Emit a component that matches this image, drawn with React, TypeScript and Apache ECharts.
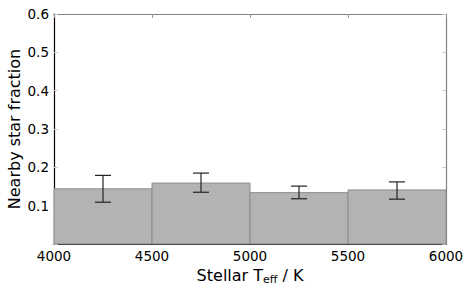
import React, { useEffect, useRef } from "react";
import * as echarts from "echarts";

const binStarts = [4000, 4500, 5000, 5500];
const binEnds = [4500, 5000, 5500, 6000];
const fractions = [0.144, 0.159, 0.134, 0.141];
const errCenters = [4250, 4750, 5250, 5750];
const errLow = [0.109, 0.135, 0.118, 0.117];
const errHigh = [0.179, 0.185, 0.151, 0.162];
const xTicks = [4000, 4500, 5000, 5500, 6000];
const yTicks = [0, 0.1, 0.2, 0.3, 0.4, 0.5, 0.6];

const FONT = "DejaVu Sans";

export default function App() {
  const ref = useRef<HTMLDivElement>(null);
  useEffect(() => {
    if (!ref.current) return;
    const chart = echarts.init(ref.current, undefined, { renderer: "svg" });
    const barData = binStarts.map((s, i) => [s, binEnds[i], fractions[i]]);
    const errData = errCenters.map((c, i) => [c, errLow[i], errHigh[i]]);
    const common = {
      min: xTicks[0],
      max: xTicks[xTicks.length - 1],
      interval: 500,
    };
    const yCommon = {
      min: yTicks[0],
      max: yTicks[yTicks.length - 1],
      interval: 0.1,
    };
    chart.setOption({
      animation: false,
      grid: { left: 54, right: 24, top: 14, bottom: 47, containLabel: false, outerBoundsMode: "none" },
      xAxis: [
        {
          type: "value",
          ...common,
          position: "bottom",
          axisLine: { onZero: false, lineStyle: { color: "#000", width: 1.2 } },
          axisTick: { inside: true, length: 4, lineStyle: { color: "#888" } },
          axisLabel: {
            color: "#000",
            fontFamily: FONT,
            fontSize: 13.5,
            margin: 5,
            formatter: (v: number) => String(v),
          },
          splitLine: { show: false },
          name: "Stellar T{sub|eff} / K",
          nameLocation: "middle",
          nameGap: 22,
          nameMoveOverlap: false,
          nameTextStyle: {
            color: "#000",
            fontFamily: FONT,
            fontSize: 16,
            rich: {
              sub: { fontFamily: FONT, fontSize: 11, verticalAlign: "bottom", padding: [8, 0, 0, 0], color: "#000" },
            },
          },
        },
        {
          type: "value",
          ...common,
          position: "top",
          axisLine: { show: true, onZero: false, lineStyle: { color: "#808080", width: 1.2 } },
          axisTick: { inside: true, length: 4, lineStyle: { color: "#999" } },
          axisLabel: { show: false },
          splitLine: { show: false },
        },
      ],
      yAxis: [
        {
          type: "value",
          ...yCommon,
          position: "left",
          axisLine: { show: true, onZero: false, lineStyle: { color: "#000", width: 1.2 } },
          axisTick: { show: true, inside: true, length: 4, lineStyle: { color: "#ccc" } },
          axisLabel: {
            color: "#000",
            fontFamily: FONT,
            fontSize: 13.5,
            margin: 5,
            formatter: (v: number) => (Math.abs(v) < 1e-9 ? "" : v.toFixed(1)),
          },
          splitLine: { show: false },
          name: "Nearby star fraction",
          nameLocation: "middle",
          nameGap: 32,
          nameMoveOverlap: false,
          nameTextStyle: { color: "#000", fontFamily: FONT, fontSize: 16 },
        },
        {
          type: "value",
          ...yCommon,
          position: "right",
          axisLine: { show: true, onZero: false, lineStyle: { color: "#808080", width: 1.2 } },
          axisTick: { show: true, inside: true, length: 4, lineStyle: { color: "#ccc" } },
          axisLabel: { show: false },
          splitLine: { show: false },
        },
      ],
      series: [
        {
          type: "custom",
          xAxisIndex: 0,
          yAxisIndex: 0,
          data: barData,
          renderItem: (params: any, api: any) => {
            const p0 = api.coord([api.value(0), api.value(2)]);
            const p1 = api.coord([api.value(1), 0]);
            return {
              type: "rect",
              shape: { x: p0[0], y: p0[1], width: p1[0] - p0[0], height: p1[1] - p0[1] },
              style: { fill: "#b3b3b3", stroke: "#8c8c8c", lineWidth: 1 },
            };
          },
        },
        {
          type: "custom",
          xAxisIndex: 0,
          yAxisIndex: 0,
          data: errData,
          z: 5,
          renderItem: (params: any, api: any) => {
            const lo = api.coord([api.value(0), api.value(1)]);
            const hi = api.coord([api.value(0), api.value(2)]);
            const w = 8;
            const st = { stroke: "#222", lineWidth: 1.2 };
            return {
              type: "group",
              children: [
                { type: "line", shape: { x1: lo[0], y1: lo[1], x2: hi[0], y2: hi[1] }, style: st },
                { type: "line", shape: { x1: lo[0] - w, y1: lo[1], x2: lo[0] + w, y2: lo[1] }, style: st },
                { type: "line", shape: { x1: hi[0] - w, y1: hi[1], x2: hi[0] + w, y2: hi[1] }, style: st },
              ],
            };
          },
        },
      ],
    });
    return () => chart.dispose();
  }, []);
  return (
    <div
      ref={ref}
      style={{ position: "fixed", left: 0, top: 0, width: 470, height: 291, background: "#fff" }}
    />
  );
}
